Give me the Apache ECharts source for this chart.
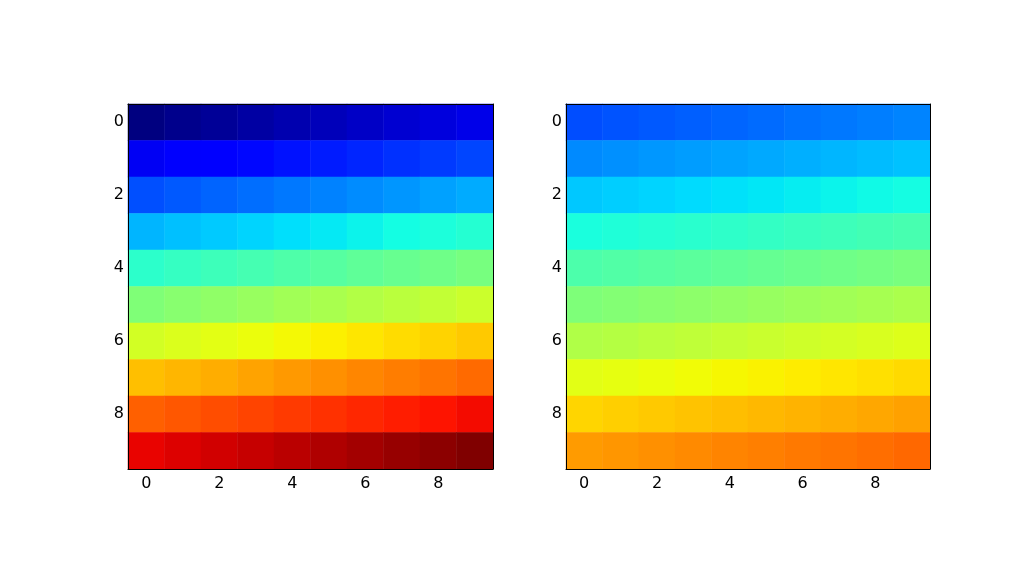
<!DOCTYPE html>
<html>
<head>
<meta charset="utf-8">
<script src="https://cdn.jsdelivr.net/npm/echarts@6/dist/echarts.min.js"></script>
<style>
  html, body { margin: 0; padding: 0; background: #fff; }
  #chart { width: 1035px; height: 577px; }
</style>
</head>
<body>
<div id="chart"></div>
<script>
// categories on both axes
const cols = ['0', '1', '2', '3', '4', '5', '6', '7', '8', '9']
const rows = ['0', '1', '2', '3', '4', '5', '6', '7', '8', '9']

// cell values, row by row (same matrix shown in both panels)
const values = [
  [0, 1, 2, 3, 4, 5, 6, 7, 8, 9],
  [10, 11, 12, 13, 14, 15, 16, 17, 18, 19],
  [20, 21, 22, 23, 24, 25, 26, 27, 28, 29],
  [30, 31, 32, 33, 34, 35, 36, 37, 38, 39],
  [40, 41, 42, 43, 44, 45, 46, 47, 48, 49],
  [50, 51, 52, 53, 54, 55, 56, 57, 58, 59],
  [60, 61, 62, 63, 64, 65, 66, 67, 68, 69],
  [70, 71, 72, 73, 74, 75, 76, 77, 78, 79],
  [80, 81, 82, 83, 84, 85, 86, 87, 88, 89],
  [90, 91, 92, 93, 94, 95, 96, 97, 98, 99]
]

// matplotlib 'jet' colormap
const jet = t => {
  const lerp = (pts) => {
    for (let i = 1; i < pts.length; i++) {
      if (t <= pts[i][0]) {
        const [x0, y0] = pts[i - 1], [x1, y1] = pts[i]
        return y0 + (y1 - y0) * (t - x0) / (x1 - x0)
      }
    }
    return pts[pts.length - 1][1]
  }
  const r = lerp([[0, 0], [0.35, 0], [0.66, 1], [0.89, 1], [1, 0.5]])
  const g = lerp([[0, 0], [0.125, 0], [0.375, 1], [0.64, 1], [0.91, 0], [1, 0]])
  const b = lerp([[0, 0.5], [0.11, 1], [0.34, 1], [0.65, 0], [1, 0]])
  return `rgb(${Math.round(r * 255)},${Math.round(g * 255)},${Math.round(b * 255)})`
}
const ramp = (lo, hi) => {
  const out = []
  for (let i = 0; i <= 64; i++) out.push(jet(lo + (hi - lo) * i / 64))
  return out
}

const cells = []
values.forEach((row, r) => row.forEach((v, c) => cells.push([c, r, v])))

const font = { fontFamily: 'DejaVu Sans', fontSize: 16, color: '#000' }
const line = { lineStyle: { color: '#000', width: 1 } }
const tick = { inside: true, length: 4, alignWithLabel: true, interval: 1, lineStyle: { color: '#000' } }

const makeAxes = (gridIndex) => ({
  x: [
    {
      type: 'category', data: cols, gridIndex, position: 'bottom', z: 10,
      axisLine: line, axisTick: tick,
      axisLabel: { ...font, interval: 1, margin: 7 },
      splitLine: { show: false }
    },
    {
      type: 'category', data: cols, gridIndex, position: 'top', z: 10,
      axisLine: line, axisTick: tick,
      axisLabel: { show: false },
      splitLine: { show: false }
    }
  ],
  y: [
    {
      type: 'category', data: rows, gridIndex, position: 'left', inverse: true, z: 10,
      axisLine: line, axisTick: tick,
      axisLabel: { ...font, interval: 1, margin: 4 },
      splitLine: { show: false }
    },
    {
      type: 'category', data: rows, gridIndex, position: 'right', inverse: true, z: 10,
      axisLine: line, axisTick: tick,
      axisLabel: { show: false },
      splitLine: { show: false }
    }
  ]
})

const a0 = makeAxes(0)
const a1 = makeAxes(1)

const chart = echarts.init(document.getElementById('chart'))
chart.setOption({
  animation: false,
  backgroundColor: '#fff',
  grid: [
    { left: 128, top: 104, width: 365, height: 365 },
    { left: 566, top: 104, width: 364, height: 365 }
  ],
  xAxis: [...a0.x, ...a1.x],
  yAxis: [...a0.y, ...a1.y],
  visualMap: [
    { show: false, seriesIndex: 0, min: 0, max: 99, inRange: { color: ramp(0, 1) } },
    { show: false, seriesIndex: 1, min: 0, max: 99, inRange: { color: ramp(0.2, 0.8) } }
  ],
  series: [
    { type: 'heatmap', xAxisIndex: 0, yAxisIndex: 0, data: cells, z: 1 },
    { type: 'heatmap', xAxisIndex: 2, yAxisIndex: 2, data: cells, z: 1 }
  ]
})
</script>
</body>
</html>
